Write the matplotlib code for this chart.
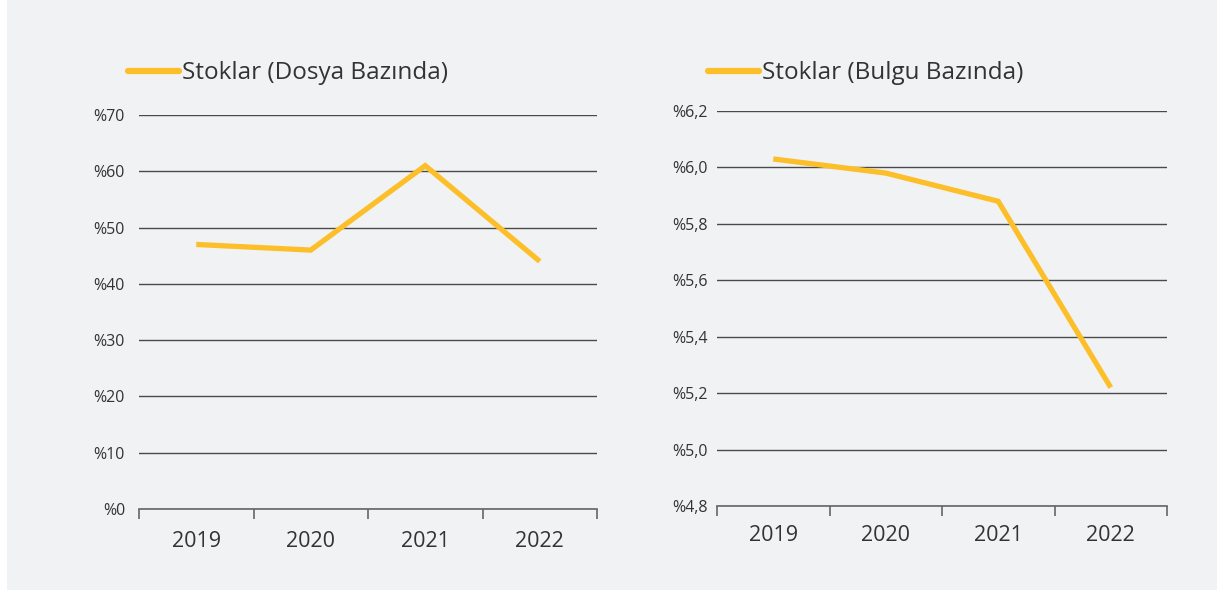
import matplotlib
matplotlib.use("Agg")
import matplotlib.pyplot as plt
import numpy as np

plt.rcParams['font.family'] = ['Open Sans', 'DejaVu Sans']

years = ['2019', '2020', '2021', '2022']
dosya = [47, 46, 61, 44]          # Stoklar (Dosya Bazında), %
bulgu = [6.03, 5.98, 5.88, 5.22]  # Stoklar (Bulgu Bazında), %

dosya_ticks = [0, 10, 20, 30, 40, 50, 60, 70]
dosya_labels = ['%0', '%10', '%20', '%30', '%40', '%50', '%60', '%70']
bulgu_ticks = [4.8, 5.0, 5.2, 5.4, 5.6, 5.8, 6.0, 6.2]
bulgu_labels = ['%4,8', '%5,0', '%5,2', '%5,4', '%5,6', '%5,8', '%6,0', '%6,2']

bg = '#f1f2f4'
yellow = '#fcbf2a'
dark = '#333333'

fig = plt.figure(figsize=(12.17, 5.90), dpi=100, facecolor='white')
# grey panel (white strip on the left edge)
fig.patches.append(plt.Rectangle((7 / 1217, 0), 1, 1, transform=fig.transFigure,
                                 facecolor=bg, edgecolor='none', zorder=-10))

ax1 = fig.add_axes([139 / 1217, 1 - 509 / 590, 458 / 1217, 394 / 590])
ax2 = fig.add_axes([717 / 1217, 1 - 506 / 590, 450 / 1217, 395 / 590])


def style(ax, vals, ticks, labels, name, ypad, xpad, leg_x, leg_y):
    x = np.arange(len(years))
    ax.set_facecolor('none')
    ax.plot(x, vals, color=yellow, lw=3.8, solid_joinstyle='miter',
            solid_capstyle='butt', label=name, zorder=3)
    ax.set_xlim(-0.5, len(years) - 0.5)
    ax.set_ylim(ticks[0], ticks[-1])
    ax.set_yticks(ticks)
    ax.set_yticklabels(labels, fontsize=11.5, color=dark)
    ax.tick_params(axis='y', length=0, pad=ypad)
    ax.grid(axis='y', color='#4a4a4a', lw=1.0)
    ax.set_axisbelow(True)
    for s in ['top', 'right', 'left']:
        ax.spines[s].set_visible(False)
    ax.spines['bottom'].set_color('#666666')
    ax.spines['bottom'].set_linewidth(1.2)
    ax.set_xticks(np.arange(-0.5, len(years), 1.0))
    ax.set_xticklabels([])
    ax.tick_params(axis='x', which='major', length=7, width=1.2, color='#666666')
    ax.set_xticks(x, minor=True)
    ax.set_xticklabels(years, minor=True, fontsize=15.5, color=dark)
    ax.tick_params(axis='x', which='minor', length=0, pad=xpad)
    leg = ax.legend(loc='lower left', bbox_to_anchor=(leg_x, leg_y), frameon=False,
                    fontsize=17.5, handlelength=2.1, handletextpad=0.12,
                    borderpad=0, borderaxespad=0)
    for t in leg.get_texts():
        t.set_color(dark)
    for h in leg.get_lines():
        h.set_linewidth(4.5)
        h.set_solid_capstyle('round')


style(ax1, dosya, dosya_ticks, dosya_labels, 'Stoklar (Dosya Bazında)', 10, 16, -0.025, 1.075)
style(ax2, bulgu, bulgu_ticks, bulgu_labels, 'Stoklar (Bulgu Bazında)', 7, 14, -0.02, 1.065)

fig.savefig('out.png', dpi=100, facecolor='white')
